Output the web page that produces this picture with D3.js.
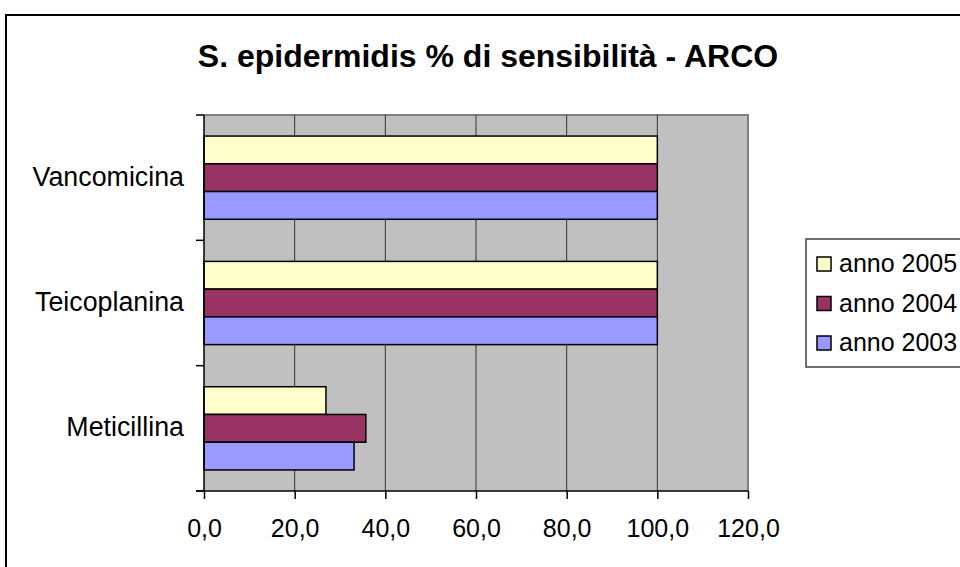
<!DOCTYPE html>
<html>
<head>
<meta charset="utf-8">
<script src="https://cdn.jsdelivr.net/npm/d3@7"></script>
<style>
  html, body { margin: 0; padding: 0; background: #fff; }
  svg { display: block; font-family: "Liberation Sans", Arial, sans-serif; }
</style>
</head>
<body>
<svg id="chart" width="960" height="567"></svg>
<script>
// Sensitivity (%) of S. epidermidis by antibiotic and year
const categories = ["Vancomicina", "Teicoplanina", "Meticillina"];
const seriesNames = ["anno 2005", "anno 2004", "anno 2003"];
const values2005 = [100, 100, 26.9];
const values2004 = [100, 100, 35.7];
const values2003 = [100, 100, 33.1];
const xTicks = [0, 20, 40, 60, 80, 100, 120];
const title = "S. epidermidis % di sensibilità - ARCO";

const seriesValues = [values2005, values2004, values2003];
const colors = ["#FFFFCC", "#993366", "#9999FF"];

const svg = d3.select("#chart");

// outer chart frame
svg.append("rect")
  .attr("x", 6).attr("y", 15).attr("width", 1000).attr("height", 600)
  .attr("fill", "#fff").attr("stroke", "#000").attr("stroke-width", 2);

// title
svg.append("text")
  .attr("x", 488).attr("y", 67)
  .attr("text-anchor", "middle")
  .attr("font-weight", "bold")
  .attr("font-size", 32)
  .attr("fill", "#000")
  .text(title);

const plot = { left: 204, right: 748, top: 115, bottom: 491 };

const x = d3.scaleLinear().domain([0, 120]).range([plot.left, plot.right]);
const y = d3.scaleBand().domain(categories).range([plot.top, plot.bottom]).padding(0);
const gap = y.bandwidth() * 0.168;
const ySub = d3.scaleBand().domain(seriesNames).range([gap, y.bandwidth() - gap]).padding(0);

// plot background
svg.append("rect")
  .attr("x", plot.left).attr("y", plot.top)
  .attr("width", plot.right - plot.left).attr("height", plot.bottom - plot.top)
  .attr("fill", "#C0C0C0");

// plot frame (top and right)
svg.append("path")
  .attr("d", `M${plot.left},${plot.top}H${plot.right}V${plot.bottom}`)
  .attr("fill", "none").attr("stroke", "#808080").attr("stroke-width", 2);

// vertical gridlines
svg.append("g")
  .selectAll("line")
  .data(xTicks.filter(t => t > 0 && t < 120))
  .join("line")
  .attr("x1", d => x(d)).attr("x2", d => x(d))
  .attr("y1", plot.top).attr("y2", plot.bottom)
  .attr("stroke", "#333").attr("stroke-width", 1);

// bars
const rows = [];
categories.forEach((c, i) => {
  seriesNames.forEach((s, j) => {
    rows.push({ cat: c, series: s, value: seriesValues[j][i], color: colors[j] });
  });
});

svg.append("g")
  .selectAll("rect")
  .data(rows)
  .join("rect")
  .attr("x", x(0))
  .attr("y", d => y(d.cat) + ySub(d.series))
  .attr("width", d => x(d.value) - x(0))
  .attr("height", ySub.bandwidth())
  .attr("fill", d => d.color)
  .attr("stroke", "#000")
  .attr("stroke-width", 1.5);

// x axis
const xAxis = d3.axisBottom(x)
  .tickValues(xTicks)
  .tickSize(8)
  .tickPadding(20)
  .tickFormat(d => d3.format(".1f")(d).replace(".", ","));

const gx = svg.append("g")
  .attr("transform", `translate(0,${plot.bottom})`)
  .call(xAxis);
gx.select(".domain").remove();
gx.append("line")
  .attr("x1", plot.left - 8).attr("x2", plot.right)
  .attr("y1", 0).attr("y2", 0)
  .attr("stroke", "#000").attr("stroke-width", 1.5);
gx.selectAll(".tick line").attr("stroke", "#000").attr("stroke-width", 1.5);
gx.selectAll(".tick text")
  .attr("font-size", 25)
  .attr("font-family", "Liberation Sans, Arial, sans-serif")
  .attr("fill", "#000");

// y axis: line, ticks at category boundaries, labels at centres
const gy = svg.append("g");
gy.append("line")
  .attr("x1", plot.left).attr("x2", plot.left)
  .attr("y1", plot.top).attr("y2", plot.bottom)
  .attr("stroke", "#000").attr("stroke-width", 1.5);
const boundaries = categories.map(c => y(c)).concat([plot.bottom]);
gy.selectAll("line.tk")
  .data(boundaries)
  .join("line")
  .attr("class", "tk")
  .attr("x1", plot.left - 8).attr("x2", plot.left)
  .attr("y1", d => d).attr("y2", d => d)
  .attr("stroke", "#000").attr("stroke-width", 1.5);
gy.selectAll("text")
  .data(categories)
  .join("text")
  .attr("x", 184)
  .attr("y", d => y(d) + y.bandwidth() / 2 + 8)
  .attr("text-anchor", "end")
  .attr("font-size", 26.8)
  .attr("fill", "#000")
  .text(d => d);

// legend
const legend = svg.append("g");
legend.append("rect")
  .attr("x", 806).attr("y", 239).attr("width", 200).attr("height", 128)
  .attr("fill", "#fff").attr("stroke", "#404040").attr("stroke-width", 1.5);
const legendY = d3.scalePoint().domain(seriesNames).range([264, 343]);
const items = legend.selectAll("g.item")
  .data(seriesNames)
  .join("g")
  .attr("class", "item")
  .attr("transform", d => `translate(0,${legendY(d)})`);
items.append("rect")
  .attr("x", 817).attr("y", -7).attr("width", 14).attr("height", 14)
  .attr("fill", (d, i) => colors[i])
  .attr("stroke", "#000").attr("stroke-width", 1.5);
items.append("text")
  .attr("x", 839).attr("y", 8)
  .attr("font-size", 25)
  .attr("fill", "#000")
  .text(d => d);
</script>
</body>
</html>
